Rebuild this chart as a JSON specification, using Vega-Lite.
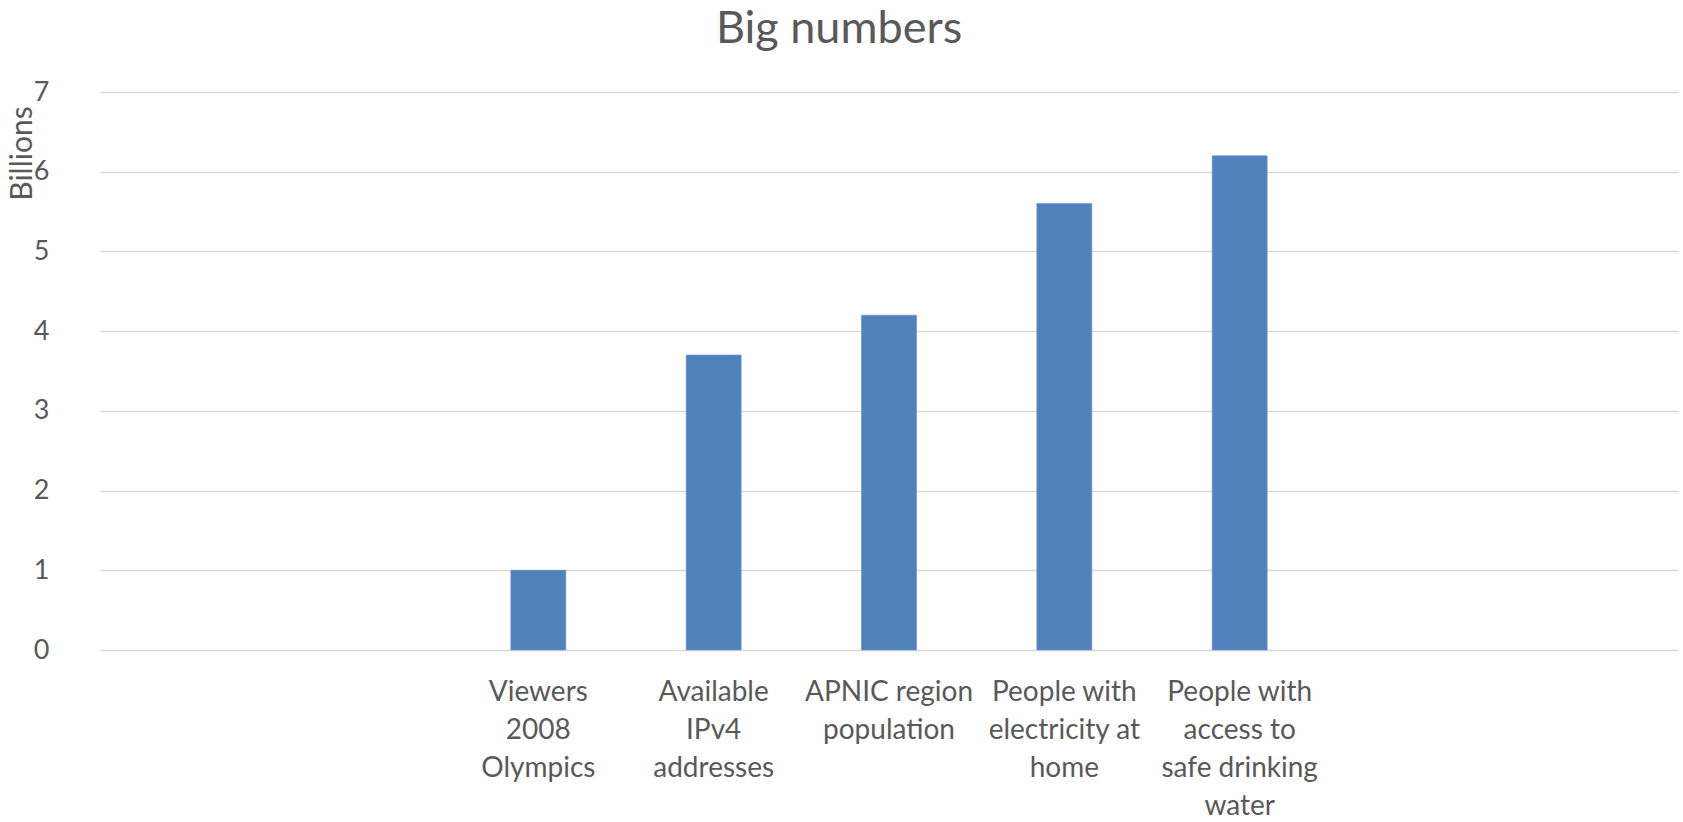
{
  "$schema": "https://vega.github.io/schema/vega-lite/v6.json",
  "width": 1578,
  "height": 558,
  "autosize": {"type": "none"},
  "padding": {"left": 100, "top": 92, "right": 5, "bottom": 172},
  "background": "white",
  "title": {
    "text": "Big numbers",
    "anchor": "middle",
    "dx": -50,
    "offset": 26,
    "baseline": "top",
    "font": "Lato",
    "fontSize": 45,
    "fontWeight": "normal",
    "color": "#595959"
  },
  "data": {
    "values": [
      {"category": "Viewers\n2008\nOlympics", "billions": 1.0},
      {"category": "Available\nIPv4\naddresses", "billions": 3.7},
      {"category": "APNIC region\npopulation", "billions": 4.2},
      {"category": "People with\nelectricity at\nhome", "billions": 5.6},
      {"category": "People with\naccess to\nsafe drinking\nwater", "billions": 6.2}
    ]
  },
  "mark": {"type": "bar", "color": "#4f81bd", "stroke": "#6f97cc", "strokeWidth": 0.7},
  "encoding": {
    "x": {
      "field": "category",
      "type": "nominal",
      "scale": {
        "domain": [" ", "  ", "Viewers\n2008\nOlympics", "Available\nIPv4\naddresses", "APNIC region\npopulation", "People with\nelectricity at\nhome", "People with\naccess to\nsafe drinking\nwater", "   ", "    "],
        "paddingInner": 0.6865,
        "paddingOuter": 0.343
      },
      "axis": {
        "title": null,
        "labelAngle": 0,
        "labelExpr": "split(datum.value, '\\n')",
        "labelFont": "Lato",
        "labelFontSize": 28,
        "labelColor": "#595959",
        "labelLineHeight": 38,
        "labelLimit": 400,
        "labelPadding": 28,
        "labelBaseline": "top",
        "ticks": false,
        "domain": false,
        "grid": false
      }
    },
    "y": {
      "field": "billions",
      "type": "quantitative",
      "scale": {"domain": [0, 7], "nice": false},
      "axis": {
        "title": "Billions",
        "titleFont": "Lato",
        "titleFontSize": 30,
        "titleFontWeight": "normal",
        "titleColor": "#595959",
        "titleAngle": -90,
        "titleAlign": "center",
        "titleBaseline": "middle",
        "titleX": -78,
        "titleY": 61,
        "values": [0, 1, 2, 3, 4, 5, 6, 7],
        "labelFont": "Lato",
        "labelFontSize": 27,
        "labelColor": "#595959",
        "labelPadding": 51,
        "ticks": false,
        "domain": false,
        "grid": true,
        "gridColor": "#d9d9d9",
        "gridWidth": 1.5
      }
    }
  },
  "config": {
    "view": {"stroke": null}
  }
}
